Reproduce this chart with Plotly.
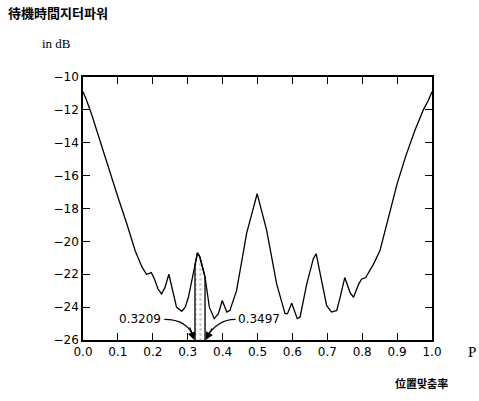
import numpy as np
import plotly.graph_objects as go

# Justification ratio P and waiting-time jitter power (dB)
p_vals = [0.000, 0.010, 0.025, 0.050, 0.075, 0.100, 0.125, 0.150, 0.170, 0.182,
          0.190, 0.196, 0.205, 0.215, 0.225, 0.235, 0.246, 0.258, 0.268, 0.283,
          0.293, 0.302, 0.315, 0.328, 0.335, 0.350, 0.362, 0.376, 0.388, 0.399,
          0.412, 0.421, 0.440, 0.469, 0.499, 0.526, 0.555, 0.579, 0.586, 0.598,
          0.614, 0.622, 0.641, 0.660, 0.668, 0.679, 0.698, 0.712, 0.727, 0.738,
          0.750, 0.765, 0.775, 0.790, 0.798, 0.810, 0.832, 0.851, 0.875, 0.900,
          0.925, 0.950, 0.975, 0.990, 1.000]
power_db = [-10.9, -11.4, -12.3, -14.0, -15.7, -17.3, -18.9, -20.6, -21.6, -22.0,
            -21.95, -21.9, -22.3, -22.9, -23.2, -22.8, -22.0, -23.2, -24.0, -24.25,
            -24.0, -23.4, -22.0, -20.7, -20.95, -22.2, -24.0, -24.7, -24.4, -23.6,
            -24.3, -24.2, -23.0, -19.5, -17.1, -19.3, -22.6, -24.4, -24.4, -23.76,
            -24.7, -24.6, -22.6, -21.05, -20.75, -21.97, -23.9, -24.3, -24.2, -23.3,
            -22.2, -23.1, -23.4, -22.6, -22.3, -22.2, -21.4, -20.55, -18.5, -16.5,
            -14.8, -13.3, -12.0, -11.4, -10.9]

band_lo = 0.3209
band_hi = 0.3497
y_floor = -26

x_ticks = [round(0.1 * i, 1) for i in range(11)]
x_tick_text = [f"{v:.1f}" for v in x_ticks]
y_ticks = list(range(-26, -9, 2))

title_text = "待機時間지터파워"
unit_text = "in dB"
xlabel_text = "位置맞춤率"
p_text = "P"

# shaded band polygon from the curve
inner_x = [v for v in p_vals if band_lo < v < band_hi]
band_x = [band_lo, band_lo] + inner_x + [band_hi, band_hi]
band_y = [y_floor] + list(np.interp([band_lo] + inner_x + [band_hi], p_vals, power_db)) + [y_floor]

fig = go.Figure()
fig.add_trace(go.Scatter(
    x=band_x, y=band_y, mode="lines", fill="toself",
    line=dict(color="black", width=1.3),
    fillcolor="rgba(255,255,255,0)",
    fillpattern=dict(shape=".", fgcolor="#999999", bgcolor="white", size=5, solidity=0.25),
    hoverinfo="skip", showlegend=False))
fig.add_trace(go.Scatter(
    x=p_vals, y=power_db, mode="lines",
    line=dict(color="black", width=1.3), showlegend=False))

# curved callout arrows
lab_y = -24.75
lo_lab_x, hi_lab_x = 0.163, 0.505
fig.add_shape(type="path", xref="x", yref="y",
              path=f"M 0.233,{lab_y} Q 0.300,{lab_y} {band_lo - 0.004},{y_floor + 0.15}",
              line=dict(color="black", width=1.2))
fig.add_shape(type="path", xref="x", yref="y",
              path=f"M 0.437,{lab_y} Q 0.385,{lab_y} {band_hi + 0.004},{y_floor + 0.15}",
              line=dict(color="black", width=1.2))
fig.add_annotation(x=band_lo - 0.002, y=y_floor, ax=-5, ay=-14, text="", showarrow=True,
                   arrowhead=2, arrowsize=1.2, arrowwidth=1.3, arrowcolor="black")
fig.add_annotation(x=band_hi + 0.002, y=y_floor, ax=7, ay=-13, text="", showarrow=True,
                   arrowhead=2, arrowsize=1.2, arrowwidth=1.3, arrowcolor="black")
fig.add_annotation(x=lo_lab_x, y=lab_y, text=f"{band_lo:.4f}", showarrow=False,
                   font=dict(family="DejaVu Sans", size=12, color="black"))
fig.add_annotation(x=hi_lab_x, y=lab_y, text=f"{band_hi:.4f}", showarrow=False,
                   font=dict(family="DejaVu Sans", size=12, color="black"))

W, H = 479, 401
L, T = 83, 77
pw, ph = 349, 263
R = W - L - pw
B = H - T - ph

def px(xp, yp):
    return (xp - L) / pw, 1 - (yp - T) / ph

tx, ty = px(6, 13)
fig.add_annotation(x=tx, y=ty, xref="paper", yref="paper", text=f"<b>{title_text}</b>",
                   showarrow=False, xanchor="left", yanchor="middle",
                   font=dict(family="Noto Sans CJK KR", size=13, color="black"))
ux, uy = px(40, 44)
fig.add_annotation(x=ux, y=uy, xref="paper", yref="paper", text=unit_text,
                   showarrow=False, xanchor="left", yanchor="middle",
                   font=dict(family="Liberation Serif", size=13, color="black"))
lx, ly = px(393, 383)
fig.add_annotation(x=lx, y=ly, xref="paper", yref="paper", text=f"<b>{xlabel_text}</b>",
                   showarrow=False, xanchor="left", yanchor="middle",
                   font=dict(family="Noto Sans CJK KR", size=11, color="black"))
qx, qy = px(472, 352)
fig.add_annotation(x=qx, y=qy, xref="paper", yref="paper", text=p_text,
                   showarrow=False, xanchor="center", yanchor="middle",
                   font=dict(family="Liberation Serif", size=15, color="black"))

axis_common = dict(showgrid=False, zeroline=False, showline=True, linecolor="black",
                   linewidth=1.6, ticks="inside", ticklen=7, tickwidth=1.3,
                   tickcolor="black", mirror="ticks",
                   tickfont=dict(family="DejaVu Sans", size=12, color="black"))
fig.update_xaxes(range=[0, 1], tickvals=x_ticks, ticktext=x_tick_text, **axis_common)
fig.update_yaxes(range=[-26, -10], tickvals=y_ticks, **axis_common)

fig.update_layout(width=W, height=H, margin=dict(l=L, r=R, t=T, b=B, autoexpand=False),
                  paper_bgcolor="white", plot_bgcolor="white", showlegend=False)
fig.write_html("out.html", config={"displayModeBar": False},
               post_script="document.body.style.margin='0';document.body.style.overflow='hidden';")
